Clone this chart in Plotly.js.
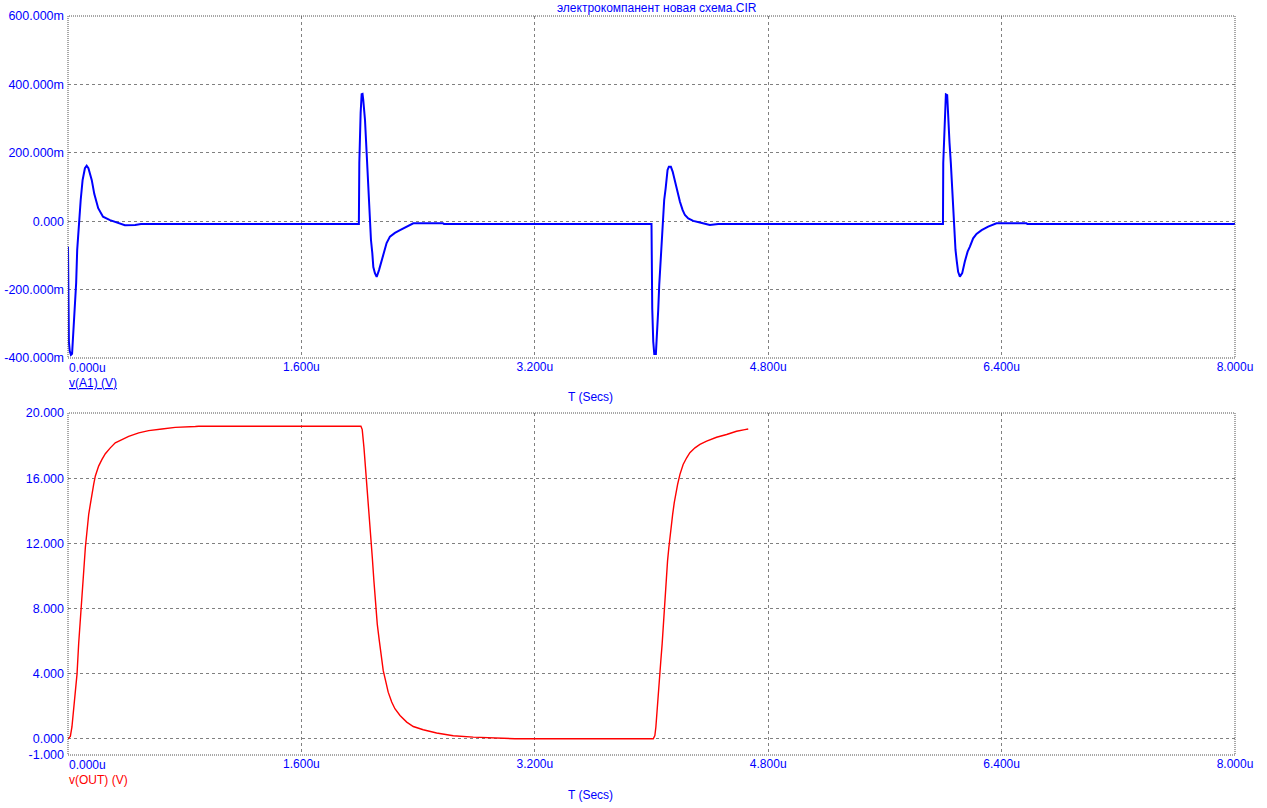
<!DOCTYPE html>
<html>
<head>
<meta charset="utf-8">
<script src="https://cdn.plot.ly/plotly-3.0.1.min.js"></script>
<style>
html,body{margin:0;padding:0;background:#fff;}
#chart{width:1267px;height:808px;}
</style>
</head>
<body>
<div id="chart"></div>
<script>
// ---- data (time in microseconds) ----
const chartTitle = "электрокомпанент новая схема.CIR";
const topLabel = "v(A1) (V)";
const botLabel = "v(OUT) (V)";
const xLabel = "T (Secs)";

const topT = [0, 0.006, 0.012, 0.02, 0.028, 0.033, 0.042, 0.05, 0.056, 0.063, 0.07, 0.075, 0.081, 0.087, 0.1, 0.116, 0.128, 0.14, 0.163, 0.18, 0.207, 0.24, 0.288, 0.357, 0.39, 0.46, 0.5,
  1.994, 1.997, 2.006, 2.013, 2.019, 2.024, 2.036, 2.043, 2.051, 2.058, 2.065, 2.070, 2.077, 2.086, 2.093, 2.104, 2.116, 2.132, 2.150, 2.166, 2.184, 2.207, 2.241, 2.276, 2.322, 2.367, 2.570, 2.577,
  4.000, 4.001, 4.005, 4.012, 4.019, 4.030, 4.035, 4.042, 4.046, 4.053, 4.062, 4.069, 4.076, 4.080, 4.087, 4.097, 4.104, 4.110, 4.119, 4.133, 4.145, 4.156, 4.167, 4.179, 4.195, 4.213, 4.229, 4.252, 4.286, 4.332, 4.366, 4.400, 4.457,
  5.998, 6.000, 6.011, 6.018, 6.027, 6.034, 6.043, 6.052, 6.061, 6.068, 6.075, 6.084, 6.093, 6.102, 6.114, 6.130, 6.148, 6.167, 6.182, 6.205, 6.228, 6.263, 6.308, 6.365, 6.571, 6.576, 8.0];
const topV = [-0.075, -0.352, -0.38, -0.391, -0.388, -0.352, -0.30, -0.255, -0.18, -0.084, -0.04, -0.005, 0.03, 0.062, 0.12, 0.155, 0.162, 0.155, 0.12, 0.08, 0.038, 0.013, 0.003, -0.006, -0.012, -0.011, -0.008,
  -0.008, 0.170, 0.316, 0.371, 0.372, 0.355, 0.296, 0.237, 0.179, 0.112, 0.042, -0.005, -0.055, -0.093, -0.134, -0.152, -0.163, -0.143, -0.114, -0.089, -0.064, -0.045, -0.034, -0.026, -0.016, -0.006, -0.006, -0.008,
  -0.008, -0.060, -0.254, -0.352, -0.388, -0.388, -0.356, -0.312, -0.260, -0.187, -0.118, -0.060, -0.011, 0.033, 0.062, 0.096, 0.125, 0.150, 0.159, 0.159, 0.145, 0.125, 0.101, 0.082, 0.057, 0.033, 0.018, 0.008, 0.001, -0.004, -0.008, -0.011, -0.008,
  -0.008, 0.170, 0.316, 0.371, 0.369, 0.296, 0.229, 0.170, 0.091, 0.024, -0.026, -0.084, -0.118, -0.148, -0.162, -0.152, -0.118, -0.089, -0.075, -0.050, -0.037, -0.026, -0.016, -0.006, -0.006, -0.008, -0.008];

const botT = [0, 0.016, 0.027, 0.039, 0.050, 0.062, 0.073, 0.084, 0.096, 0.108, 0.119, 0.130, 0.142, 0.153, 0.165, 0.176, 0.187, 0.210, 0.233, 0.256, 0.290, 0.324, 0.370, 0.416, 0.485, 0.553, 0.644, 0.735, 0.873, 0.896,
  2.008, 2.017, 2.029, 2.040, 2.051, 2.063, 2.075, 2.086, 2.097, 2.109, 2.120, 2.134, 2.145, 2.161, 2.177, 2.195, 2.219, 2.241, 2.276, 2.322, 2.367, 2.435, 2.527, 2.641, 2.778, 2.915, 3.064,
  4.012, 4.023, 4.030, 4.039, 4.051, 4.058, 4.064, 4.073, 4.080, 4.087, 4.097, 4.104, 4.110, 4.119, 4.126, 4.135, 4.145, 4.156, 4.165, 4.179, 4.195, 4.217, 4.241, 4.263, 4.298, 4.332, 4.378, 4.446, 4.515, 4.583, 4.640, 4.663];
const botV = [0.0, 0.14, 0.72, 1.94, 2.96, 3.98, 5.82, 7.45, 8.47, 10.31, 11.74, 12.96, 13.78, 14.39, 15.21, 15.62, 16.12, 16.74, 17.15, 17.50, 17.86, 18.17, 18.37, 18.57, 18.78, 18.92, 19.02, 19.12, 19.17, 19.19,
  19.19, 18.98, 17.86, 16.64, 15.41, 13.98, 12.55, 11.13, 9.70, 8.27, 7.04, 6.02, 5.21, 4.18, 3.57, 2.86, 2.25, 1.84, 1.43, 1.02, 0.75, 0.55, 0.35, 0.18, 0.10, 0.06, 0.0,
  0.0, 0.2, 0.72, 1.94, 2.96, 3.98, 4.80, 5.82, 6.84, 7.86, 8.88, 9.90, 10.92, 11.74, 12.35, 13.17, 13.78, 14.49, 15.00, 15.62, 16.23, 16.84, 17.25, 17.56, 17.86, 18.07, 18.27, 18.51, 18.68, 18.88, 18.98, 19.02];

const xTickVals = [0, 1.6, 3.2, 4.8, 6.4, 8.0];
const xTickText = ["", "1.600u", "3.200u", "4.800u", "6.400u", "8.000u"];
const xFirstTick = "0.000u";
const topTickVals = [0.6, 0.4, 0.2, 0, -0.2, -0.4];
const topTickText = ["600.000m", "400.000m", "200.000m", "0.000", "-200.000m", "-400.000m"];
const botTickVals = [20, 16, 12, 8, 4, 0, -1];
const botTickText = ["20.000", "16.000", "12.000", "8.000", "4.000", "0.000", "-1.000"];

// ---- style ----
const BLUE = "#0000ff", RED = "#ff0000", GRID = "#808080";
const FONT = "Liberation Sans, Arial, sans-serif";
const tickFont = {family: FONT, size: 12, color: BLUE};
const yTickFont = {family: FONT, size: 12.5, color: BLUE};

const xCommon = {
  range: [0, 8], tickmode: "array", tickvals: xTickVals, ticktext: xTickText,
  showgrid: true, gridcolor: GRID, gridwidth: 1, griddash: "3px,3px",
  zeroline: false, showline: false, ticks: "", tickfont: tickFont, fixedrange: true
};
const yCommon = {
  tickmode: "array", showgrid: true, gridcolor: GRID, gridwidth: 1, griddash: "3px,3px",
  zeroline: false, showline: false, ticks: "", tickfont: yTickFont, fixedrange: true,
  ticklabelstandoff: 3
};

const traces = [
  {x: topT, y: topV, xaxis: "x", yaxis: "y", type: "scatter", mode: "lines",
   line: {color: BLUE, width: 2}, hoverinfo: "skip"},
  {x: botT, y: botV, xaxis: "x2", yaxis: "y2", type: "scatter", mode: "lines",
   line: {color: RED, width: 1.4}, hoverinfo: "skip"}
];

const plotTop = 16, plotBot = 755, H = 808, W = 1267, L = 68, R = 32;
const ph = plotBot - plotTop;
const py = px => (plotBot - px) / ph;      // pixel y -> paper y
const pxX = px => (px - L) / (W - L - R);   // pixel x -> paper x

const frameStyle = {color: "#505050", width: 1, dash: "1px,1px"};

const layout = {
  width: W, height: H,
  margin: {l: L, r: R, t: plotTop, b: H - plotBot, pad: 0},
  paper_bgcolor: "#fff", plot_bgcolor: "#fff",
  showlegend: false, hovermode: false,
  xaxis: Object.assign({}, xCommon, {anchor: "y"}),
  yaxis: Object.assign({}, yCommon, {domain: [py(358), 1], range: [-0.4, 0.6], tickvals: topTickVals, ticktext: topTickText}),
  xaxis2: Object.assign({}, xCommon, {anchor: "y2"}),
  yaxis2: Object.assign({}, yCommon, {domain: [0, py(413)], range: [-1, 20], tickvals: botTickVals, ticktext: botTickText}),
  shapes: [
    {type: "rect", xref: "x domain", yref: "y domain", x0: 0, x1: 1, y0: 0, y1: 1, line: frameStyle},
    {type: "rect", xref: "x2 domain", yref: "y2 domain", x0: 0, x1: 1, y0: 0, y1: 1, line: frameStyle}
  ],
  annotations: [
    {text: chartTitle, xref: "paper", yref: "paper", x: pxX(657), y: py(8), xanchor: "center", yanchor: "middle", showarrow: false, font: {family: FONT, size: 12, color: BLUE}},
    {text: xFirstTick, xref: "paper", yref: "paper", x: 0, y: py(368), xanchor: "left", yanchor: "middle", showarrow: false, font: tickFont, borderpad: 0},
    {text: '<span style="text-decoration:underline">' + topLabel + '</span>', xref: "paper", yref: "paper", x: 0, y: py(383), xanchor: "left", yanchor: "middle", showarrow: false, font: {family: FONT, size: 12, color: BLUE}, borderpad: 0},
    {text: xLabel, xref: "paper", yref: "paper", x: pxX(590), y: py(397), xanchor: "center", yanchor: "middle", showarrow: false, font: {family: FONT, size: 12, color: BLUE}},
    {text: xFirstTick, xref: "paper", yref: "paper", x: 0, y: py(765), xanchor: "left", yanchor: "middle", showarrow: false, font: tickFont, borderpad: 0},
    {text: botLabel, xref: "paper", yref: "paper", x: 0, y: py(780), xanchor: "left", yanchor: "middle", showarrow: false, font: {family: FONT, size: 12, color: RED}, borderpad: 0},
    {text: xLabel, xref: "paper", yref: "paper", x: pxX(590), y: py(795), xanchor: "center", yanchor: "middle", showarrow: false, font: {family: FONT, size: 12, color: BLUE}}
  ]
};

Plotly.newPlot("chart", traces, layout, {displayModeBar: false, staticPlot: true});
</script>
</body>
</html>
